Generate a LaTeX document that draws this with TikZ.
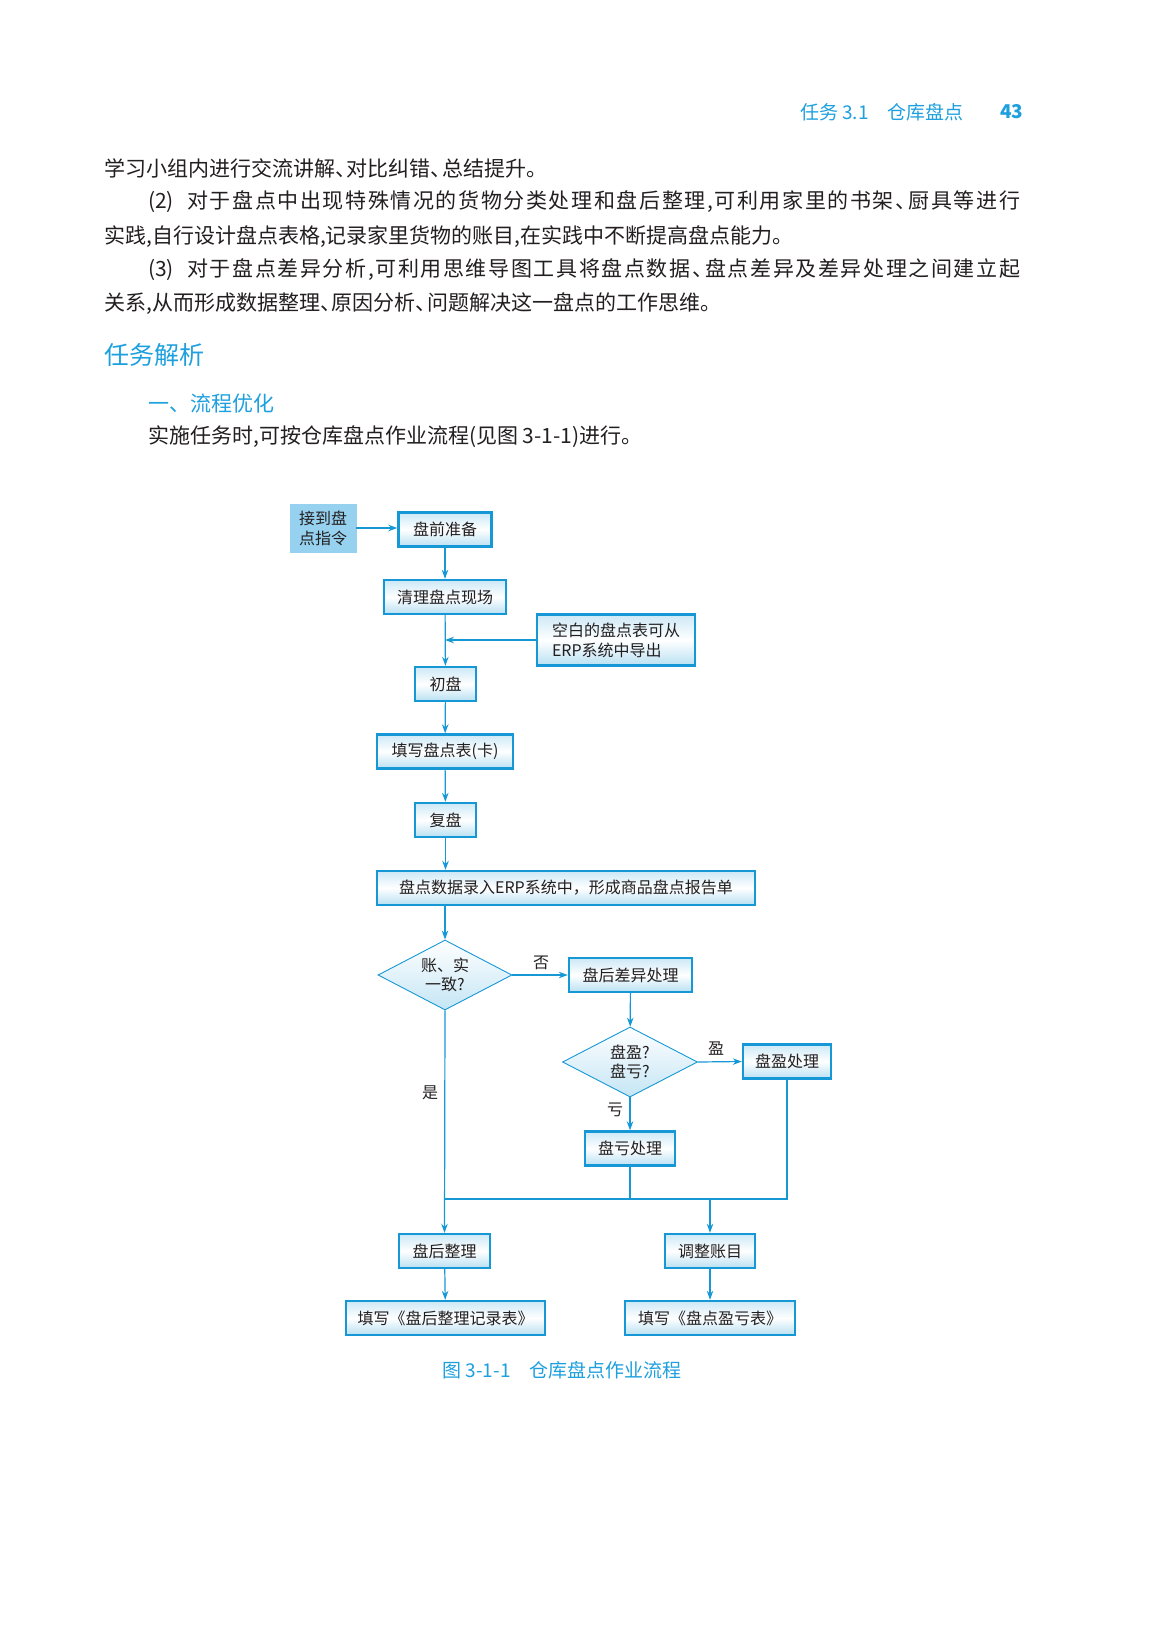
\documentclass[tikz,border=0pt]{standalone}
\usepackage{fontspec}
\setmainfont{Noto Sans CJK SC}
\usetikzlibrary{shapes.geometric,arrows.meta}
\definecolor{bl}{RGB}{22,152,214}
\definecolor{hd}{RGB}{30,160,222}
\definecolor{txt}{RGB}{35,31,32}
\definecolor{fillb}{RGB}{150,210,240}
% half-width enumeration comma
\newcommand{\dun}{\makebox[0.55em][l]{、}}
% spread a string of single-token characters over a box
\def\myspr#1{#1\mysprx}
\def\mysprx#1{\ifx#1\relax\else\hfil#1\expandafter\mysprx\fi}
\newcommand{\spreadline}[2]{\makebox[#1][s]{\myspr #2\relax}}
\tikzset{
  body/.style={anchor=west,inner sep=0,text=txt,font=\fontsize{21}{25}\selectfont},
  hdtext/.style={anchor=west,inner sep=0,text=hd},
  fbox/.style={draw=bl,line width=2.4pt,top color=bl!22,bottom color=bl!30,middle color=white,
    minimum height=34,inner sep=2,text=txt,font=\fontsize{16}{20}\selectfont},
  dia/.style={diamond,draw=bl,line width=0.9pt,top color=white,bottom color=bl!25,shape aspect=2,
    minimum width=134,minimum height=70,inner sep=0,text=txt,align=center,font=\fontsize{16}{19}\selectfont},
  arr/.style={draw=bl,line width=1.2pt,-{Stealth[length=9pt,width=6.5pt]}},
  ln/.style={draw=bl,line width=1.2pt},
  lab/.style={inner sep=0,text=txt,font=\fontsize{16}{19}\selectfont}
}
\begin{document}
\begin{tikzpicture}[x=1pt,y=-1pt]
\useasboundingbox[fill=white] (0,0) rectangle (1165,1637);
% header
\node[hdtext,font=\fontsize{19}{22}\selectfont] (h1) at (800,112) {任务 3.1};
\node[hdtext,font=\fontsize{19}{22}\selectfont] (h2) at (887,112) {仓库盘点};
\node[hdtext,font=\fontsize{19}{22}\selectfont\bfseries] (h3) at (1000,112) {43};
% body text
\node[body] (p1) at (104,168) {学习小组内进行交流讲解\dun 对比纠错\dun 总结提升。};
\node[body] (p2a) at (148,202) {(2)};
\node[body] (p2) at (187,202) {\spreadline{833pt}{对于盘点中出现特殊情况的货物分类处理和盘后整理,可利用家里的书架\dun 厨具等进行}};
\node[body] (p3) at (104,237) {实践,自行设计盘点表格,记录家里货物的账目,在实践中不断提高盘点能力。};
\node[body] (p4a) at (148,270) {(3)};
\node[body] (p4) at (187,270) {\spreadline{833pt}{对于盘点差异分析,可利用思维导图工具将盘点数据\dun 盘点差异及差异处理之间建立起}};
\node[body] (p5) at (104,304) {关系,从而形成数据整理\dun 原因分析\dun 问题解决这一盘点的工作思维。};
\node[hdtext,font=\fontsize{25}{29}\selectfont] (sec) at (104,355) {任务解析};
\node[hdtext,font=\fontsize{21}{25}\selectfont] (sub) at (148,404) {一、流程优化};
\node[body] (p6) at (148,437) {实施任务时,可按仓库盘点作业流程(见图 3-1-1)进行。};
% flowchart nodes
\node[draw=fillb,fill=fillb,minimum width=66,minimum height=48,inner sep=0,align=left,text=txt,
  font=\fontsize{16}{20}\selectfont] (st) at (323,528) {接到盘\\点指令};
\node[fbox,minimum width=93] (b1) at (445,529.5) {盘前准备};
\node[fbox,minimum width=122] (b2) at (445,597) {清理盘点现场};
\node[fbox,minimum width=158,minimum height=51,align=left] (erp) at (616,640) {空白的盘点表可从\\ERP系统中导出};
\node[fbox,minimum width=61] (b3) at (445.5,684) {初盘};
\node[fbox,minimum width=136] (b4) at (445,751.5) {填写盘点表(卡)};
\node[fbox,minimum width=61] (b5) at (445.5,820) {复盘};
\node[fbox,minimum width=378] (b6) at (566,888) {盘点数据录入ERP系统中，形成商品盘点报告单};
\node[dia] (d1) at (445,975) {账、实\\一致?};
\node[fbox,minimum width=123] (b7) at (630.5,975) {盘后差异处理};
\node[dia,minimum width=135] (d2) at (630,1062) {盘盈?\\盘亏?};
\node[fbox,minimum width=88] (b8) at (787,1061.5) {盘盈处理};
\node[fbox,minimum width=90] (b9) at (630,1148.5) {盘亏处理};
\node[fbox,minimum width=91] (b10) at (444.5,1251) {盘后整理};
\node[fbox,minimum width=90] (b11) at (710,1251) {调整账目};
\node[fbox,minimum width=199] (b12) at (445.5,1318) {填写《盘后整理记录表》};
\node[fbox,minimum width=170] (b13) at (710,1318) {填写《盘点盈亏表》};
% labels
\node[lab] (l1) at (541,963) {否};
\node[lab] (l2) at (716,1049) {盈};
\node[lab] (l3) at (615,1110) {亏};
\node[lab] (l4) at (430,1093) {是};
% caption
\node[hdtext,anchor=center,font=\fontsize{19}{22}\selectfont] (cap) at (562,1370) {图 3-1-1\quad 仓库盘点作业流程};
% connectors
\draw[arr] (st.east) -- (st.east -| b1.west);
\draw[arr] (b1) -- (b2);
\draw[arr] (b2) -- (b3);
\draw[arr] (erp.west) -- (erp.west -| b2.south);
\draw[arr] (b3) -- (b4);
\draw[arr] (b4) -- (b5);
\draw[arr] (b5.south) -- (b5.south |- b6.north);
\draw[arr] (d1.north |- b6.south) -- (d1.north);
\draw[arr] (d1.east) -- (b7.west);
\draw[arr] (b7) -- (d2);
\draw[arr] (d2.east) -- (b8.west);
\draw[arr] (d2.south) -- (b9.north);
\draw[arr] (d1.south) -- (b10.north);
\coordinate (j) at (445,1199);
\draw[ln] (j) -- (b8.south |- j) -- (b8.south);
\draw[ln] (b9.south) -- (b9.south |- j);
\draw[arr] (b11.north |- j) -- (b11.north);
\draw[arr] (b10) -- (b12);
\draw[arr] (b11) -- (b13);
\end{tikzpicture}
\end{document}
